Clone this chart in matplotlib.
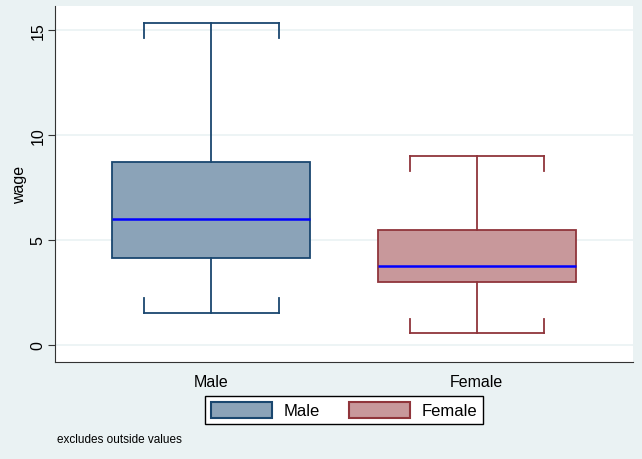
import matplotlib.pyplot as plt
from matplotlib.patches import Patch

plt.rcParams['font.family'] = ['Liberation Sans', 'DejaVu Sans']

# box plot summary values (wage by sex)
groups = ['Male', 'Female']
q1 = [4.14, 3.0]
med = [6.0, 3.76]
q3 = [8.71, 5.48]
whislo = [1.52, 0.55]
whishi = [15.33, 9.0]

fills = ['#8ba3b8', '#c8989b']
edges = ['#1a476f', '#90353b']
bg = '#eaf2f3'

fig = plt.figure(figsize=(6.42, 4.60), dpi=100, facecolor=bg)
ax = fig.add_axes([0.0857, 0.2109, 0.9003, 0.7739])
ax.set_facecolor('white')

stats = []
for i, g in enumerate(groups):
    stats.append({'label': g, 'q1': q1[i], 'med': med[i], 'q3': q3[i],
                  'whislo': whislo[i], 'whishi': whishi[i], 'fliers': []})

pos = [1, 2]
for i in range(len(groups)):
    ax.bxp([stats[i]], positions=[pos[i]], widths=0.747, capwidths=0.506,
           patch_artist=True, showfliers=False,
           boxprops=dict(facecolor=fills[i], edgecolor=edges[i], linewidth=1.3),
           whiskerprops=dict(color=edges[i], linewidth=1.3),
           capprops=dict(color=edges[i], linewidth=1.3),
           medianprops=dict(color='#0000ff', linewidth=1.8), zorder=3)
    # Stata style cap ends
    hw = 0.506 / 2
    tl = 0.7
    for xe in (pos[i] - hw, pos[i] + hw):
        ax.plot([xe, xe], [whishi[i], whishi[i] - tl], color=edges[i], lw=1.3, zorder=3)
        ax.plot([xe, xe], [whislo[i], whislo[i] + tl], color=edges[i], lw=1.3, zorder=3)

ax.set_xlim(0.41, 2.59)
ax.set_ylim(-0.81, 16.14)
ax.set_yticks([0, 5, 10, 15])
ax.set_xticks(pos)
ax.set_xticklabels(groups, fontsize=11.5)
ax.tick_params(axis='x', length=0, pad=9)
ax.tick_params(axis='y', length=5, pad=2, labelsize=11.5, labelrotation=90, color='#333333')
for lab in ax.get_yticklabels():
    lab.set_va('center')
ax.yaxis.grid(True, color=bg, linewidth=1.2, zorder=0)
ax.set_axisbelow(True)
for s in ['top', 'right']:
    ax.spines[s].set_visible(False)
for s in ['left', 'bottom']:
    ax.spines[s].set_color('#333333')
ax.set_ylabel('wage', fontsize=11.5, labelpad=2)

handles = [Patch(facecolor=fills[i], edgecolor=edges[i], linewidth=1.5, label=groups[i])
           for i in range(len(groups))]
leg = fig.legend(handles=handles, loc='center', bbox_to_anchor=(0.536, 0.1065), ncol=2,
                 fontsize=12, frameon=True, fancybox=False, framealpha=1, handlelength=3.7,
                 handleheight=1.1, columnspacing=1.7, borderpad=0.35, handletextpad=0.7)
leg.get_frame().set_edgecolor('black')
leg.get_frame().set_linewidth(1.0)

fig.text(0.089, 0.037, 'excludes outside values', fontsize=8.5)

fig.savefig('out.png', dpi=100, facecolor=bg)
